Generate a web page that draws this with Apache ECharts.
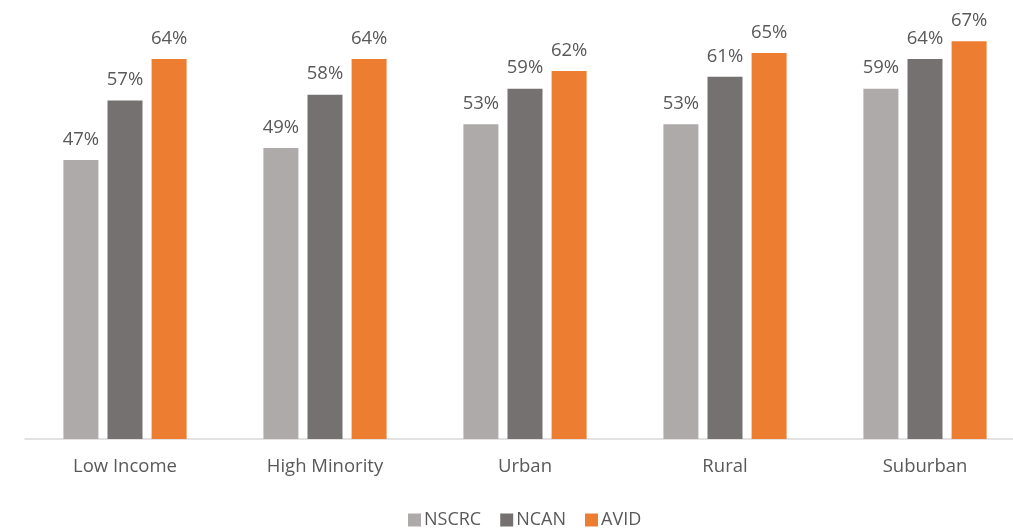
<!DOCTYPE html>
<html>
<head>
<meta charset="utf-8">
<script src="https://cdn.jsdelivr.net/npm/echarts@6/dist/echarts.min.js"></script>
<style>html,body{margin:0;padding:0;background:#fff;overflow:hidden}#c{width:1030px;height:529px}</style>
</head>
<body>
<div id="c"></div>
<script>
const categories = ['Low Income', 'High Minority', 'Urban', 'Rural', 'Suburban'];
const nscrc = [47, 49, 53, 53, 59];
const ncan = [57, 58, 59, 61, 64];
const avid = [64, 64, 62, 65, 67];

const FONT = 'Open Sans';
const chart = echarts.init(document.getElementById('c'));
const label = {show: true, position: 'top', distance: 11, formatter: '{c}%', color: '#595959', fontSize: 18.5, fontFamily: FONT};
function s(name, data, color) {
  return {name, type: 'bar', data, barWidth: 35, barGap: '26%', itemStyle: {color}, label};
}
chart.setOption({
  animation: false,
  textStyle: {fontFamily: FONT},
  grid: {left: 25, width: 1000, top: 23.4, height: 415.6},
  legend: {top: 506, left: 403, itemWidth: 13, itemHeight: 13, itemGap: 19,
    icon: 'rect', textStyle: {color: '#595959', fontSize: 18, fontFamily: FONT, padding: [0, 0, 0, -2]},
    data: ['NSCRC', 'NCAN', 'AVID']},
  xAxis: {type: 'category', data: categories,
    axisLine: {lineStyle: {color: '#D9D9D9', width: 1.5}}, axisTick: {show: false},
    axisLabel: {color: '#595959', fontSize: 18.5, margin: 18, fontFamily: FONT}},
  yAxis: {type: 'value', min: 0, max: 70, show: false, splitLine: {show: false}},
  series: [s('NSCRC', nscrc, '#AEAAAA'), s('NCAN', ncan, '#767171'), s('AVID', avid, '#ED7D31')]
});
</script>
</body>
</html>
